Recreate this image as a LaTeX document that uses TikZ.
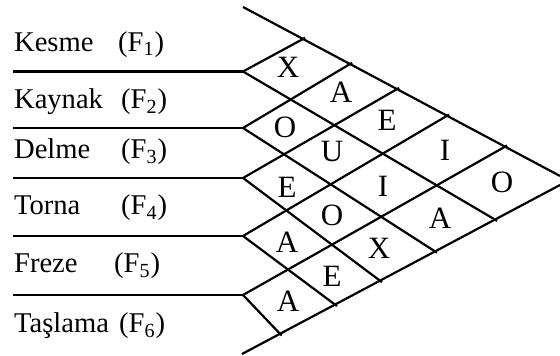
\documentclass[tikz,border=0pt]{standalone}
\usepackage{fontspec}
\setmainfont{Liberation Serif}
\usetikzlibrary{positioning}

\begin{document}
\begin{tikzpicture}[x=0.5pt, y=-0.5pt, line width=1.1pt,
  dept/.style={anchor=base west, inner sep=0pt, font=\fontsize{14.3}{16}\selectfont},
  rel/.style={inner sep=0pt, font=\fontsize{15.5}{18}\selectfont},
  diag/.style={shorten >=-1.2pt}]
  \useasboundingbox (0,0) rectangle (560,356);

  % Row separators and left corners of the chart
  \foreach \i/\y in {1/71.5, 2/128, 3/178, 4/236, 5/295} {
    \coordinate (H\i) at (13,\y);
    \coordinate (L\i) at (243,\y);
    \draw (H\i) -- (L\i);
  }

  % Outer edges
  \coordinate (top) at (243,7);
  \coordinate (topend) at (560,176);
  \coordinate (bot) at (242,354);
  \coordinate (botend) at (560,185);
  \draw (top) -- (topend);
  \draw (bot) -- (botend);

  % Ends of the diagonals on the outer edges
  \coordinate (U1) at (303,39);
  \coordinate (U2) at (350,64);
  \coordinate (U3) at (397,89.1);
  \coordinate (U4) at (447,115.8);
  \coordinate (U5) at (505,146.7);
  \coordinate (D1) at (495,219.6);
  \coordinate (D2) at (435,251.4);
  \coordinate (D3) at (380,280.7);
  \coordinate (D4) at (335,304.6);
  \coordinate (D5) at (280,333.8);

  % Diagonals
  \foreach \i in {1,...,5} {
    \draw[diag] (L\i) -- (U\i);
    \draw[diag] (L\i) -- (D\i);
  }

  % Departments
  \node[dept] (kesme) at (13,51.5) {Kesme};
  \node[dept] (f1) at (117,51.5) {(F\textsubscript{1})};
  \node[dept] (kaynak) at (13,109) {Kaynak};
  \node[dept] (f2) at (120,109) {(F\textsubscript{2})};
  \node[dept] (delme) at (13,159) {Delme};
  \node[dept] (f3) at (120,159) {(F\textsubscript{3})};
  \node[dept] (torna) at (13,215) {Torna};
  \node[dept] (f4) at (120,215) {(F\textsubscript{4})};
  \node[dept] (freze) at (13,273) {Freze};
  \node[dept] (f5) at (113,273) {(F\textsubscript{5})};
  \node[dept] (taslama) at (13,333) {Taşlama};
  \node[dept] (f6) at (118,333) {(F\textsubscript{6})};

  % Relationship codes
  \node[rel] (r12) at (288,67) {X};
  \node[rel] (r13) at (341,92) {A};
  \node[rel] (r14) at (387,120) {E};
  \node[rel] (r15) at (445,150) {I};
  \node[rel] (r16) at (502,182) {O};
  \node[rel] (r23) at (285,127) {O};
  \node[rel] (r24) at (332,152) {U};
  \node[rel] (r25) at (383,186) {I};
  \node[rel] (r26) at (440,218) {A};
  \node[rel] (r34) at (287,187) {E};
  \node[rel] (r35) at (332,215) {O};
  \node[rel] (r36) at (379,248) {X};
  \node[rel] (r45) at (287,242) {A};
  \node[rel] (r46) at (332,276) {E};
  \node[rel] (r56) at (288,301) {A};
\end{tikzpicture}
\end{document}
